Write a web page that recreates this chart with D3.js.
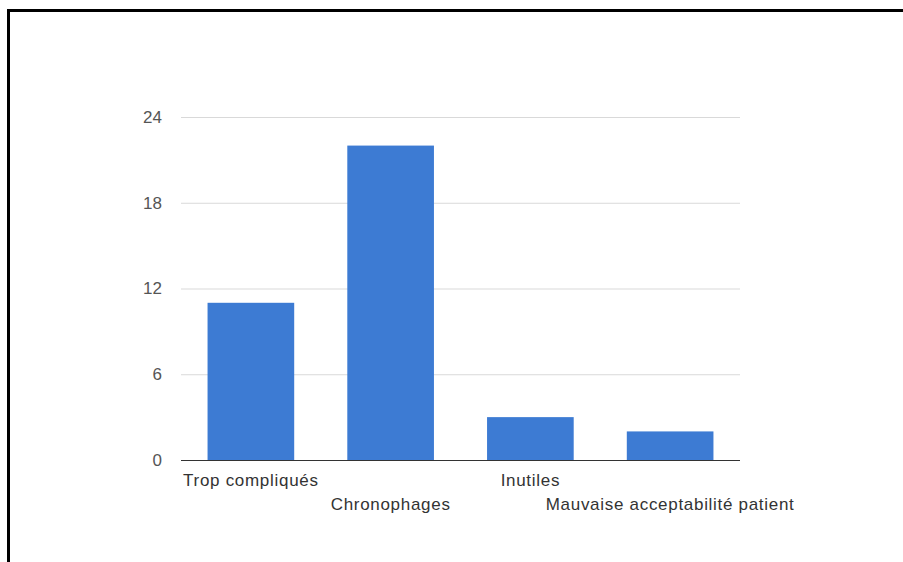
<!DOCTYPE html>
<html>
<head>
<meta charset="utf-8">
<script src="https://cdn.jsdelivr.net/npm/d3@7"></script>
<style>
  body { margin: 0; background: #fff; }
  svg { display: block; }
</style>
</head>
<body>
<script>
let w = 903;
let h = 562;

// chart data
var categories = ["Trop compliqués", "Chronophages", "Inutiles", "Mauvaise acceptabilité patient"];
var counts = [11, 22, 3, 2];
var yTicks = [0, 6, 12, 18, 24];

let plotLeft = 181, plotRight = 740, plotTop = 117, plotBottom = 460;

let svg = d3.select("body").append("svg").attr("width", w).attr("height", h);

// outer frame (runs off the picture on right and bottom)
svg.append("rect")
    .attr("x", 8.5)
    .attr("y", 10.5)
    .attr("width", 1000)
    .attr("height", 1000)
    .attr("fill", "none")
    .attr("stroke", "#000")
    .attr("stroke-width", 3);

let xScale = d3.scaleBand()
    .domain(categories)
    .range([plotLeft, plotRight])
    .paddingInner(0.38)
    .paddingOuter(0.19);

let yScale = d3.scaleLinear()
    .domain([0, 24])
    .range([plotBottom, plotTop]);

// gridlines + y labels
let yAxis = d3.axisLeft(yScale)
    .tickValues(yTicks)
    .tickSize(-(plotRight - plotLeft))
    .tickPadding(19);

let gy = svg.append("g")
    .attr("transform", "translate(" + plotLeft + ",0)")
    .call(yAxis);
gy.select(".domain").remove();
gy.selectAll(".tick line").attr("stroke", "#d9d9d9").attr("stroke-width", 1);
gy.selectAll(".tick text")
    .attr("fill", "#555")
    .style("font-family", "Arial, 'Liberation Sans', sans-serif")
    .style("font-size", "17px");

// bars
svg.selectAll("rect.bar")
    .data(counts)
    .enter()
    .append("rect")
    .attr("class", "bar")
    .attr("x", function(d, i) { return xScale(categories[i]); })
    .attr("y", function(d) { return yScale(d); })
    .attr("width", xScale.bandwidth())
    .attr("height", function(d) { return yScale(0) - yScale(d); })
    .attr("fill", "#3d7bd3");

// baseline
svg.append("line")
    .attr("x1", plotLeft)
    .attr("x2", plotRight)
    .attr("y1", plotBottom + 0.5)
    .attr("y2", plotBottom + 0.5)
    .attr("stroke", "#333")
    .attr("stroke-width", 1);

// category labels, staggered on two rows
let xAxis = d3.axisBottom(xScale).tickSize(0).tickPadding(0);
let gx = svg.append("g")
    .attr("transform", "translate(0," + plotBottom + ")")
    .call(xAxis);
gx.select(".domain").remove();
gx.selectAll(".tick text")
    .attr("fill", "#333")
    .attr("dy", null)
    .attr("y", function(d, i) { return i % 2 == 0 ? 26 : 50; })
    .style("font-family", "Arial, 'Liberation Sans', sans-serif")
    .style("font-size", "17px")
    .style("letter-spacing", "0.7px");
</script>
</body>
</html>
